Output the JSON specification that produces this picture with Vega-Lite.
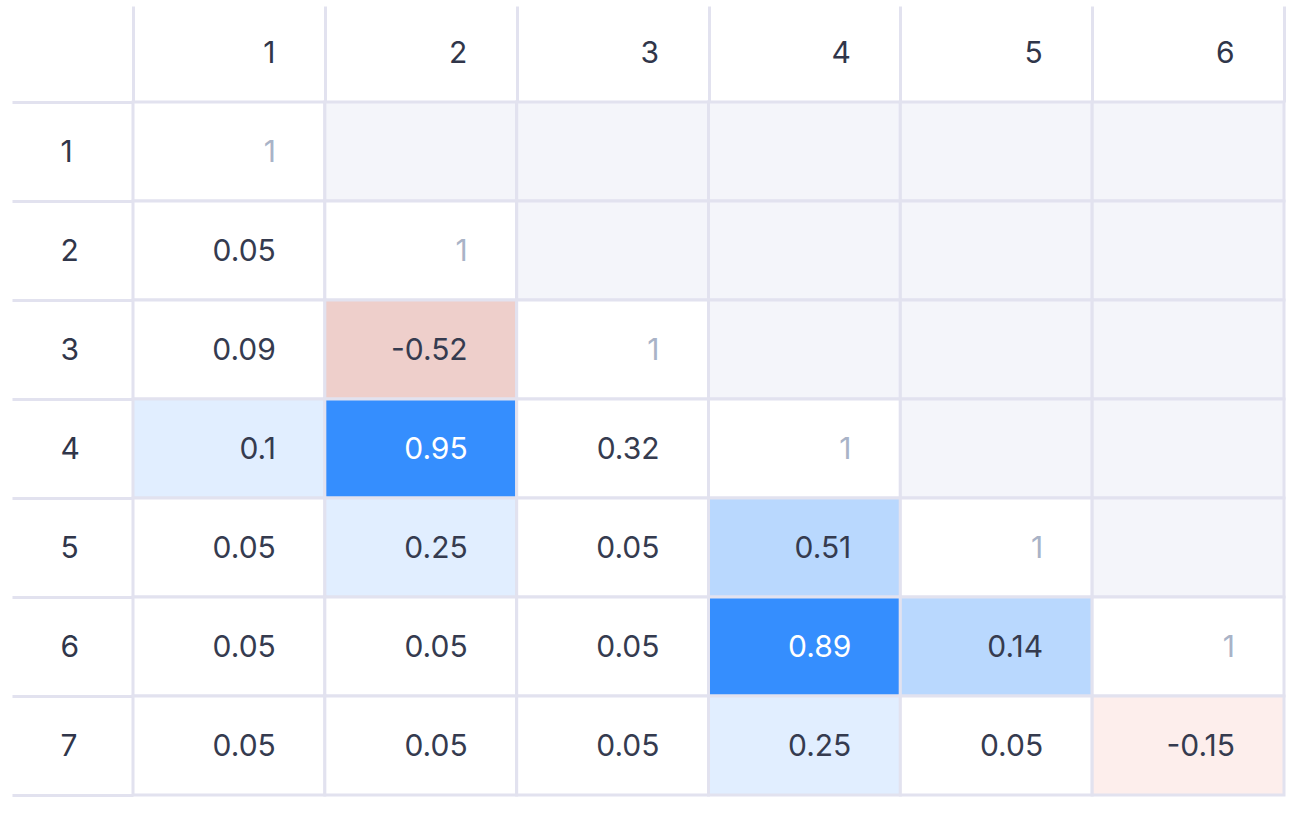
{
  "$schema": "https://vega.github.io/schema/vega-lite/v6.json",
  "width": 1151,
  "height": 693,
  "autosize": {"type": "none"},
  "padding": {"left": 133, "top": 102, "right": 12, "bottom": 18},
  "background": "white",
  "config": {"view": {"stroke": null}, "font": "Inter", "axis": {"labelFont": "Inter"}},
  "data": {"values": [
    {"r": "1", "c": "1", "v": 1, "cls": "diag"},
    {"r": "1", "c": "2", "v": null, "cls": "upper"},
    {"r": "1", "c": "3", "v": null, "cls": "upper"},
    {"r": "1", "c": "4", "v": null, "cls": "upper"},
    {"r": "1", "c": "5", "v": null, "cls": "upper"},
    {"r": "1", "c": "6", "v": null, "cls": "upper"},
    {"r": "2", "c": "1", "v": 0.05, "cls": "none"},
    {"r": "2", "c": "2", "v": 1, "cls": "diag"},
    {"r": "2", "c": "3", "v": null, "cls": "upper"},
    {"r": "2", "c": "4", "v": null, "cls": "upper"},
    {"r": "2", "c": "5", "v": null, "cls": "upper"},
    {"r": "2", "c": "6", "v": null, "cls": "upper"},
    {"r": "3", "c": "1", "v": 0.09, "cls": "none"},
    {"r": "3", "c": "2", "v": -0.52, "cls": "neg2"},
    {"r": "3", "c": "3", "v": 1, "cls": "diag"},
    {"r": "3", "c": "4", "v": null, "cls": "upper"},
    {"r": "3", "c": "5", "v": null, "cls": "upper"},
    {"r": "3", "c": "6", "v": null, "cls": "upper"},
    {"r": "4", "c": "1", "v": 0.1, "cls": "pos1"},
    {"r": "4", "c": "2", "v": 0.95, "cls": "pos3"},
    {"r": "4", "c": "3", "v": 0.32, "cls": "none"},
    {"r": "4", "c": "4", "v": 1, "cls": "diag"},
    {"r": "4", "c": "5", "v": null, "cls": "upper"},
    {"r": "4", "c": "6", "v": null, "cls": "upper"},
    {"r": "5", "c": "1", "v": 0.05, "cls": "none"},
    {"r": "5", "c": "2", "v": 0.25, "cls": "pos1"},
    {"r": "5", "c": "3", "v": 0.05, "cls": "none"},
    {"r": "5", "c": "4", "v": 0.51, "cls": "pos2"},
    {"r": "5", "c": "5", "v": 1, "cls": "diag"},
    {"r": "5", "c": "6", "v": null, "cls": "upper"},
    {"r": "6", "c": "1", "v": 0.05, "cls": "none"},
    {"r": "6", "c": "2", "v": 0.05, "cls": "none"},
    {"r": "6", "c": "3", "v": 0.05, "cls": "none"},
    {"r": "6", "c": "4", "v": 0.89, "cls": "pos3"},
    {"r": "6", "c": "5", "v": 0.14, "cls": "pos2"},
    {"r": "6", "c": "6", "v": 1, "cls": "diag"},
    {"r": "7", "c": "1", "v": 0.05, "cls": "none"},
    {"r": "7", "c": "2", "v": 0.05, "cls": "none"},
    {"r": "7", "c": "3", "v": 0.05, "cls": "none"},
    {"r": "7", "c": "4", "v": 0.25, "cls": "pos1"},
    {"r": "7", "c": "5", "v": 0.05, "cls": "none"},
    {"r": "7", "c": "6", "v": -0.15, "cls": "neg1"}
  ]},
  "encoding": {
    "x": {
      "field": "c", "type": "ordinal",
      "scale": {"paddingInner": 0, "paddingOuter": 0},
      "axis": {
        "orient": "top", "title": null, "domain": false, "grid": false,
        "tickBand": "extent", "ticks": true, "tickSize": 96, "tickWidth": 3, "tickColor": "#e2e2ef",
        "labelAlign": "right", "labelBaseline": "middle", "labelOffset": 46, "labelPadding": -47,
        "labelFontSize": 30, "labelFontWeight": 400, "labelColor": "#30364a", "labelAngle": 0
      }
    },
    "y": {
      "field": "r", "type": "ordinal",
      "scale": {"paddingInner": 0, "paddingOuter": 0},
      "axis": {
        "orient": "left", "title": null, "domain": false, "grid": false,
        "tickBand": "extent", "ticks": true, "tickSize": 121, "tickWidth": 3, "tickColor": "#e2e2ef",
        "labelAlign": "left", "labelBaseline": "middle", "labelPadding": -48, "labelOffset": 1,
        "labelFontSize": 30, "labelFontWeight": 400, "labelColor": "#30364a"
      }
    }
  },
  "layer": [
    {
      "mark": {"type": "rect", "stroke": "#e2e2ef", "strokeWidth": 3},
      "encoding": {
        "fill": {
          "field": "cls", "type": "nominal", "legend": null,
          "scale": {
            "domain": ["upper", "diag", "none", "pos1", "pos2", "pos3", "neg1", "neg2"],
            "range": ["#f4f5fa", "#ffffff", "#ffffff", "#e1eeff", "#b9d8fe", "#358efe", "#fdeeec", "#eecfcb"]
          }
        }
      }
    },
    {
      "transform": [{"filter": "datum.v != null"}],
      "mark": {"type": "text", "align": "right", "baseline": "middle", "dx": -49, "dy": 1, "fontSize": 30, "fontWeight": 400},
      "encoding": {
        "x": {"field": "c", "type": "ordinal", "bandPosition": 1},
        "text": {"field": "v", "type": "nominal"},
        "color": {
          "condition": [
            {"test": "datum.cls === 'pos3'", "value": "#ffffff"},
            {"test": "datum.cls === 'diag'", "value": "#a9b3c7"}
          ],
          "value": "#353b4f"
        }
      }
    }
  ]
}
